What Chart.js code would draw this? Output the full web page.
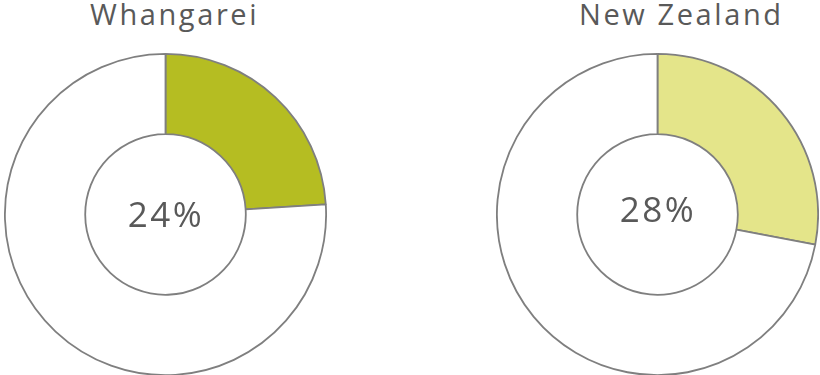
<!DOCTYPE html>
<html>
<head>
<meta charset="utf-8">
<script src="https://cdn.jsdelivr.net/npm/chart.js@4"></script>
<style>
  html, body { margin: 0; padding: 0; background: #ffffff; }
  body { width: 820px; height: 375px; position: relative; overflow: hidden; }
  .title {
    position: absolute; top: -6px; margin: 0;
    font-family: "Open Sans", sans-serif; font-weight: 400;
    font-size: 29px; letter-spacing: 2.6px; color: #595959; white-space: nowrap;
  }
  .ring { position: absolute; top: 53px; width: 323px; height: 323px; }
</style>
</head>
<body>
<div class="title" id="t0" style="left:90px">Whangarei</div>
<div class="title" id="t1" style="left:579px">New Zealand</div>
<div class="ring" style="left:4px"><canvas id="c0"></canvas></div>
<div class="ring" style="left:496px"><canvas id="c1"></canvas></div>
<script>
// Share of people, local area vs national figure
const regions = ["Whangarei", "New Zealand"];
const shares = [24, 28];
const fillColors = ["#b5bd22", "#e4e58a"];
const labelOffsetsY = [3, -2];

// Writes the percentage in the hole of each ring
const centerLabel = {
  id: "centerLabel",
  afterDraw(chart, args, opts) {
    const meta = chart.getDatasetMeta(0);
    const arc = meta.data[0];
    if (!arc) return;
    const ctx = chart.ctx;
    ctx.save();
    ctx.font = "35px 'Open Sans', sans-serif";
    if ("letterSpacing" in ctx) ctx.letterSpacing = "2.5px";
    ctx.fillStyle = "#595959";
    ctx.textAlign = "center";
    ctx.textBaseline = "middle";
    ctx.fillText(opts.text, arc.x + 0.5, arc.y + opts.dy);
    ctx.restore();
  }
};

regions.forEach((name, i) => {
  new Chart(document.getElementById("c" + i), {
    type: "doughnut",
    data: {
      labels: [name, "Other"],
      datasets: [{
        data: [shares[i], 100 - shares[i]],
        backgroundColor: [fillColors[i], "#ffffff"],
        borderColor: "#7f7f7f",
        borderWidth: 1.8,
        hoverOffset: 0
      }]
    },
    options: {
      responsive: true,
      maintainAspectRatio: false,
      animation: false,
      cutout: "50%",
      layout: { padding: 0 },
      plugins: {
        legend: { display: false },
        tooltip: { enabled: false },
        centerLabel: { text: shares[i] + "%", dy: labelOffsetsY[i] }
      }
    },
    plugins: [centerLabel]
  });
});
</script>
</body>
</html>
